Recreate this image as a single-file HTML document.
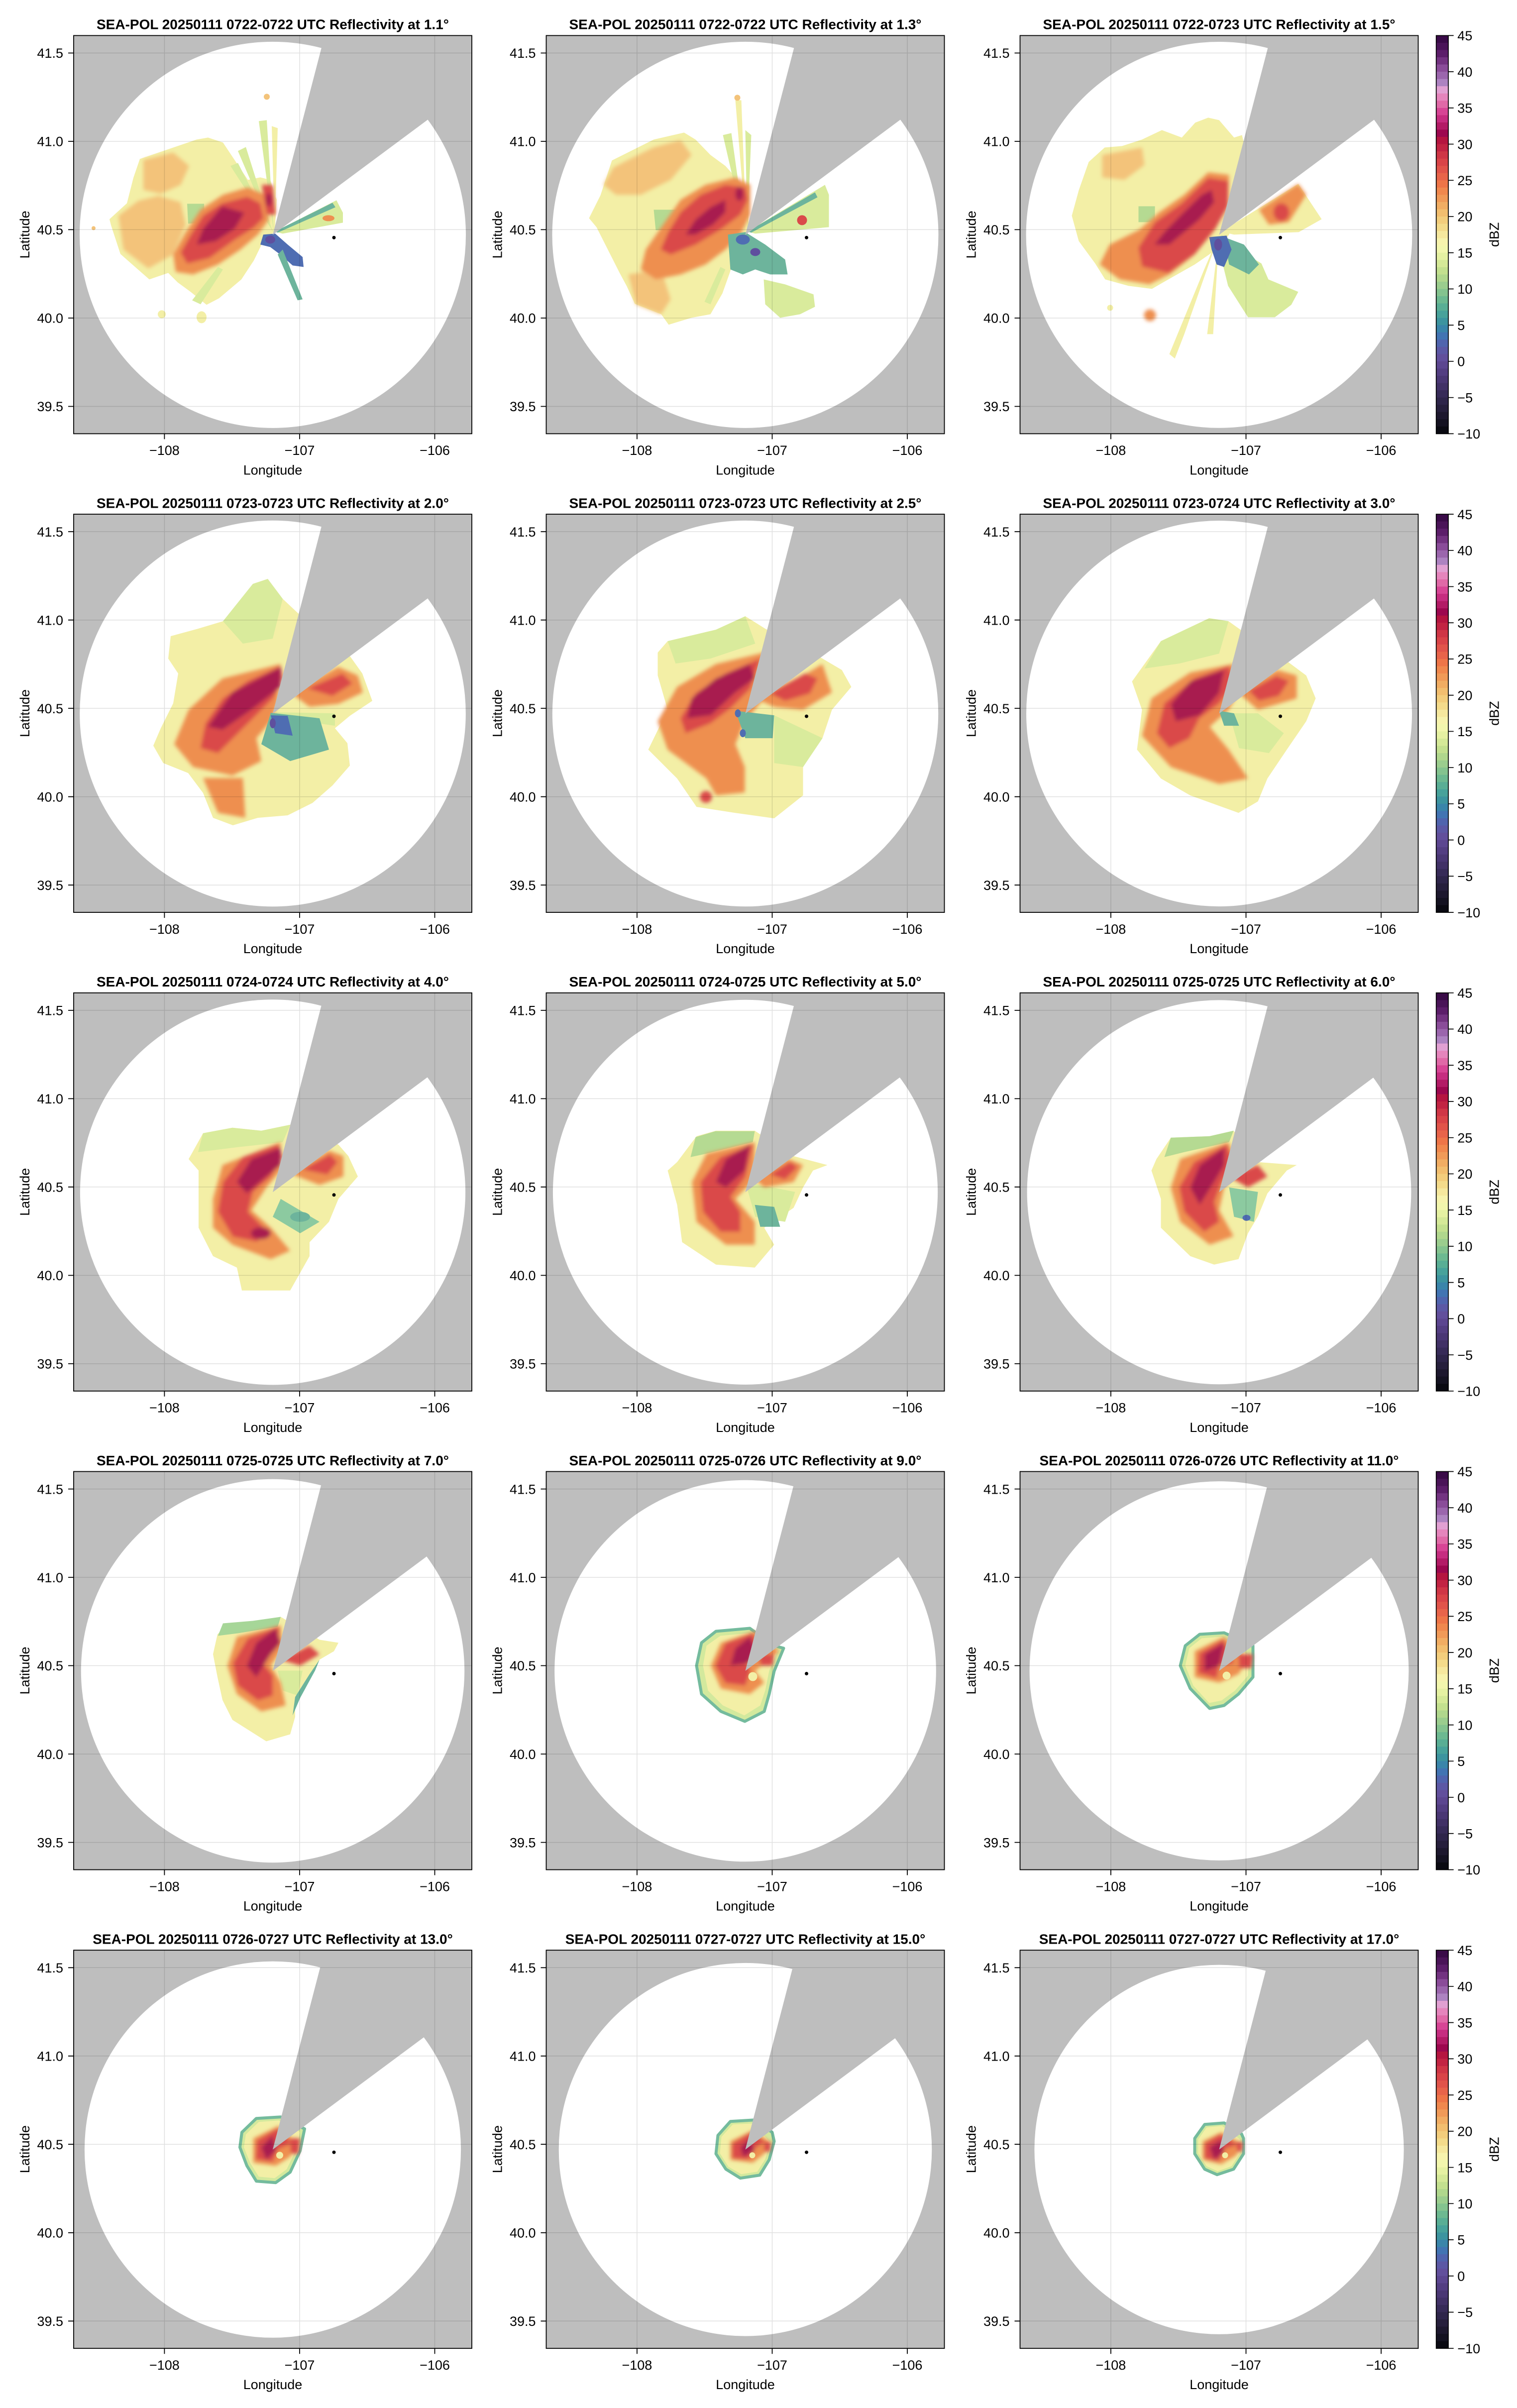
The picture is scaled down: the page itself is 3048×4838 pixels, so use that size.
<!DOCTYPE html>
<html><head><meta charset="utf-8">
<style>
html,body{margin:0;padding:0;background:#fff;}
body{width:3048px;height:4838px;overflow:hidden;}
svg{display:block;}
.t{font-family:"Liberation Sans",Arial,sans-serif;font-size:27px;fill:#000;}
.ttl{font-family:"Liberation Sans",Arial,sans-serif;font-size:28px;font-weight:bold;fill:#000;}
.y{fill:#f3efa6}.yg{fill:#d9eb9c}.g{fill:#b5da92}.o1{fill:#f3c37a}.o2{fill:#ee8f50}.r{fill:#da4a4a}.c{fill:#a81a50}
.tl{fill:#6db49c}.lt{fill:#8ccaa0}.b{fill:#4f6db2}.p{fill:#5f4f9e}.gr{fill:#8cc99b}
.ring{fill:#d3e99d;stroke:#74bb9d;stroke-width:6;stroke-linejoin:round}
</style></head>
<body>
<svg xmlns="http://www.w3.org/2000/svg" xmlns:xlink="http://www.w3.org/1999/xlink" width="3048" height="4838" viewBox="0 0 3048 4838">
<defs>
<clipPath id="ax"><rect width="800" height="800"/></clipPath>
<filter id="bl" x="-20%" y="-20%" width="140%" height="140%"><feGaussianBlur stdDeviation="4"/></filter>
<polygon id="wedge" points="400,400.5 601.7,-373.7 1042,-76.5" fill="#bebebe"/>
<path id="grid" d="M182.4,0V800M454,0V800M725.5,0V800M0,35.1H800M0,212.6H800M0,390H800M0,567.6H800M0,745.1H800" stroke="#000" stroke-opacity="0.12" stroke-width="1.5" fill="none"/>
<g id="frame" stroke="#000" stroke-width="1.8" fill="none">
<rect x="0" y="0" width="800" height="800"/>
<path d="M-11,35.1H0M-11,212.6H0M-11,390H0M-11,567.6H0M-11,745.1H0M182.4,800V811M454,800V811M725.5,800V811"/>
</g>
<g id="cbar">
<g transform="translate(836.2,0)">
<rect y="0" width="24.3" height="15" fill="#3a0b48"/>
<rect y="14.55" width="24.3" height="15" fill="#4a1458"/>
<rect y="29.09" width="24.3" height="15" fill="#5c1e6a"/>
<rect y="43.64" width="24.3" height="15" fill="#733381"/>
<rect y="58.18" width="24.3" height="15" fill="#8a4c99"/>
<rect y="72.73" width="24.3" height="15" fill="#9b66ad"/>
<rect y="87.27" width="24.3" height="15" fill="#ad83c1"/>
<rect y="101.82" width="24.3" height="15" fill="#e1a0d2"/>
<rect y="116.36" width="24.3" height="15" fill="#e585bc"/>
<rect y="130.91" width="24.3" height="15" fill="#e069a7"/>
<rect y="145.45" width="24.3" height="15" fill="#d74595"/>
<rect y="160" width="24.3" height="15" fill="#c62d80"/>
<rect y="174.55" width="24.3" height="15" fill="#b31b66"/>
<rect y="189.09" width="24.3" height="15" fill="#9d084f"/>
<rect y="203.64" width="24.3" height="15" fill="#b51540"/>
<rect y="218.18" width="24.3" height="15" fill="#c22443"/>
<rect y="232.73" width="24.3" height="15" fill="#cf3646"/>
<rect y="247.27" width="24.3" height="15" fill="#d94448"/>
<rect y="261.82" width="24.3" height="15" fill="#e1544a"/>
<rect y="276.36" width="24.3" height="15" fill="#e8644a"/>
<rect y="290.91" width="24.3" height="15" fill="#ee7548"/>
<rect y="305.45" width="24.3" height="15" fill="#f0884e"/>
<rect y="320" width="24.3" height="15" fill="#f09a58"/>
<rect y="334.55" width="24.3" height="15" fill="#f1ad63"/>
<rect y="349.09" width="24.3" height="15" fill="#f2be6f"/>
<rect y="363.64" width="24.3" height="15" fill="#f3cd7c"/>
<rect y="378.18" width="24.3" height="15" fill="#f4db8b"/>
<rect y="392.73" width="24.3" height="15" fill="#f6e89e"/>
<rect y="407.27" width="24.3" height="15" fill="#f7f3ad"/>
<rect y="421.82" width="24.3" height="15" fill="#f2f6ad"/>
<rect y="436.36" width="24.3" height="15" fill="#e5f1a2"/>
<rect y="450.91" width="24.3" height="15" fill="#d5e998"/>
<rect y="465.45" width="24.3" height="15" fill="#c3e08f"/>
<rect y="480" width="24.3" height="15" fill="#b0d78d"/>
<rect y="494.55" width="24.3" height="15" fill="#9bcd8e"/>
<rect y="509.09" width="24.3" height="15" fill="#84c38f"/>
<rect y="523.64" width="24.3" height="15" fill="#6db991"/>
<rect y="538.18" width="24.3" height="15" fill="#59ae95"/>
<rect y="552.73" width="24.3" height="15" fill="#48a29b"/>
<rect y="567.27" width="24.3" height="15" fill="#3d949f"/>
<rect y="581.82" width="24.3" height="15" fill="#3a85aa"/>
<rect y="596.36" width="24.3" height="15" fill="#4274b3"/>
<rect y="610.91" width="24.3" height="15" fill="#5064ae"/>
<rect y="625.45" width="24.3" height="15" fill="#5c58a5"/>
<rect y="640" width="24.3" height="15" fill="#624f9c"/>
<rect y="654.55" width="24.3" height="15" fill="#5c4690"/>
<rect y="669.09" width="24.3" height="15" fill="#533e82"/>
<rect y="683.64" width="24.3" height="15" fill="#4a3774"/>
<rect y="698.18" width="24.3" height="15" fill="#413166"/>
<rect y="712.73" width="24.3" height="15" fill="#372b58"/>
<rect y="727.27" width="24.3" height="15" fill="#2e254a"/>
<rect y="741.82" width="24.3" height="15" fill="#261f3c"/>
<rect y="756.36" width="24.3" height="15" fill="#1d182e"/>
<rect y="770.91" width="24.3" height="15" fill="#141221"/>
<rect y="785.45" width="24.3" height="14.55" fill="#0a0a12"/>
</g>
<rect x="836.2" y="0" width="24.3" height="800" fill="none" stroke="#000" stroke-width="1.7"/>
<path d="M860.5,0h10.7M860.5,72.73h10.7M860.5,145.45h10.7M860.5,218.18h10.7M860.5,290.91h10.7M860.5,363.64h10.7M860.5,436.36h10.7M860.5,509.09h10.7M860.5,581.82h10.7M860.5,654.55h10.7M860.5,727.27h10.7M860.5,800h10.7" stroke="#000" stroke-width="1.7"/>
</g>
</defs>

<rect width="3048" height="4838" fill="#fff"/>

<!-- ===================== ROW 1 ===================== -->
<!-- P1 1.1 -->
<g transform="translate(148,71.4)">
<rect width="800" height="800" fill="#bebebe"/>
<g clip-path="url(#ax)">
<circle cx="400" cy="400.5" r="388" fill="#fff"/>
<polygon class="y" points="72,369 75,381 94,439 152,490 190,477 209,496 235,515 267,541 292,528 337,490 362,452 381,413 404,394 408,330 395,290 375,285 350,290 330,260 300,215 270,205 247,209 209,222 171,235 133,248 120,286 107,337"/>
<polygon class="yg" points="400,395 330,232 346,224"/>
<polygon class="yg" points="402,395 372,172 388,170"/>
<polygon class="y" points="404,395 398,182 410,186"/>
<polygon class="yg" points="402,396 315,262 330,256"/>
<polygon class="g" points="228,338 262,338 264,376 230,378"/>
<g filter="url(#bl)">
<polygon class="o1" points="140,250 200,235 232,262 215,300 175,318 140,310"/>
<polygon class="o1" points="90,362 130,332 170,322 215,335 225,380 200,440 150,468 100,430"/>
<polygon class="o2" points="385,320 350,305 300,320 255,350 225,395 200,440 205,475 240,480 290,460 335,430 370,400 392,370"/>
<polygon class="r" points="375,337 349,324 298,337 260,362 235,401 215,436 228,458 273,447 324,410 362,386 381,367"/>
<polygon class="c" points="343,356 298,343 260,388 247,420 286,413 324,388"/>
<polygon class="r" points="378,300 400,300 406,360 388,360"/>
<ellipse class="c" cx="392" cy="330" rx="6" ry="14"/>
</g>
<polygon class="yg" points="404,394 528,331 541,356 541,376 420,398"/>
<polygon class="tl" points="404,394 520,336 526,345 410,396"/>
<ellipse class="o2" cx="512" cy="367" rx="12" ry="6"/>
<polygon class="b" points="381,400 405,398 430,420 460,445 462,465 440,462 415,440 395,425 375,420"/>
<ellipse class="p" cx="395" cy="410" rx="10" ry="8"/>
<polygon class="tl" points="420,430 460,530 450,532 410,440"/>
<polygon class="yg" points="300,470 255,540 238,532 290,465"/>
<circle class="y" cx="177" cy="560" r="8"/>
<ellipse class="y" cx="257" cy="566" rx="10" ry="12"/>
<circle class="o1" cx="388" cy="123" r="6"/>
<circle class="o1" cx="40" cy="387" r="4"/>
<use href="#wedge" xlink:href="#wedge"/>
<use href="#grid" xlink:href="#grid"/>
</g>
<circle cx="523" cy="406" r="3.5"/>
<use href="#frame" xlink:href="#frame"/>
<text class="ttl" x="400" y="-12.7" text-anchor="middle">SEA-POL 20250111 0722-0722 UTC Reflectivity at 1.1°</text>
<g class="t" text-anchor="end"><text x="-21" y="44.8">41.5</text><text x="-21" y="222.3">41.0</text><text x="-21" y="399.7">40.5</text><text x="-21" y="577.3">40.0</text><text x="-21" y="754.8">39.5</text></g>
<g class="t" text-anchor="middle"><text x="182.4" y="842.8">−108</text><text x="454" y="842.8">−107</text><text x="725.5" y="842.8">−106</text><text x="400" y="882">Longitude</text></g>
<text class="t" text-anchor="middle" transform="translate(-89,400) rotate(-90)">Latitude</text>
</g>

<!-- P2 1.3 -->
<g transform="translate(1097.5,71.4)">
<rect width="800" height="800" fill="#bebebe"/>
<g clip-path="url(#ax)">
<circle cx="400" cy="400.5" r="388" fill="#fff"/>
<polygon class="y" points="132,251 216,209 277,195 300,209 330,240 360,262 385,290 405,330 407,392 380,440 369,476 354,518 330,560 292,567 246,581 231,560 178,539 162,504 147,476 101,385 86,367 109,321"/>
<polygon class="yg" points="400,395 355,200 372,196"/>
<polygon class="y" points="402,395 380,130 392,130"/>
<polygon class="yg" points="404,395 400,190 412,200"/>
<polygon class="g" points="216,350 262,350 262,391 220,391"/>
<g filter="url(#bl)">
<polygon class="o1" points="135,265 215,225 270,210 292,240 250,290 190,320 140,320 115,300"/>
<polygon class="o1" points="165,480 231,470 250,530 231,560 180,540"/>
<polygon class="o2" points="410,300 380,285 320,300 270,330 235,380 200,430 190,470 220,490 270,480 320,460 360,430 390,400 410,360"/>
<polygon class="r" points="400,305 360,300 310,320 270,355 245,395 230,430 250,440 300,420 350,390 390,360 405,330"/>
<polygon class="c" points="360,330 330,345 300,370 280,400 300,400 335,380 360,355"/>
<ellipse class="c" cx="388" cy="318" rx="8" ry="14"/>
</g>
<polygon class="tl" points="365,400 400,395 440,420 480,450 485,480 450,480 420,470 395,480 370,470"/>
<ellipse class="b" cx="395" cy="410" rx="14" ry="10"/>
<ellipse class="p" cx="420" cy="435" rx="10" ry="8"/>
<polygon class="yg" points="437,490 480,500 537,520 540,545 510,560 470,567 440,540"/>
<polygon class="yg" points="404,394 560,300 568,320 568,385 420,398"/>
<polygon class="tl" points="404,394 540,315 545,325 412,396"/>
<circle class="r" cx="514" cy="371" r="10"/>
<polygon class="yg" points="360,470 330,540 318,535 350,465"/>
<circle class="o1" cx="384" cy="125" r="6"/>
<use href="#wedge" xlink:href="#wedge"/>
<use href="#grid" xlink:href="#grid"/>
</g>
<circle cx="523" cy="406" r="3.5"/>
<use href="#frame" xlink:href="#frame"/>
<text class="ttl" x="400" y="-12.7" text-anchor="middle">SEA-POL 20250111 0722-0722 UTC Reflectivity at 1.3°</text>
<g class="t" text-anchor="end"><text x="-21" y="44.8">41.5</text><text x="-21" y="222.3">41.0</text><text x="-21" y="399.7">40.5</text><text x="-21" y="577.3">40.0</text><text x="-21" y="754.8">39.5</text></g>
<g class="t" text-anchor="middle"><text x="182.4" y="842.8">−108</text><text x="454" y="842.8">−107</text><text x="725.5" y="842.8">−106</text><text x="400" y="882">Longitude</text></g>
<text class="t" text-anchor="middle" transform="translate(-89,400) rotate(-90)">Latitude</text>
</g>

<!-- P3 1.5 -->
<g transform="translate(2049.5,71.4)">
<rect width="800" height="800" fill="#bebebe"/>
<g clip-path="url(#ax)">
<circle cx="400" cy="400.5" r="387.9" fill="#fff"/>
<polygon class="y" points="138,254 170,225 205,222 245,209 285,190 325,205 352,175 378,165 400,170 430,205 446,200 460,260 420,400 405,420 380,440 351,460 298,490 265,509 218,503 171,490 151,458 118,413 104,362 118,311"/>
<polygon class="y" points="400,400 330,600 311,649 300,640 370,470"/>
<polygon class="y" points="400,400 388,600 376,600"/>
<circle class="y" cx="181" cy="547" r="6"/>
<polygon class="yg" points="405,400 432,426 485,458 499,490 559,515 545,541 512,566 458,566 418,503 400,430"/>
<polygon class="tl" points="410,405 450,420 480,460 460,480 420,460"/>
<polygon class="b" points="380,405 415,402 425,430 410,465 395,460 385,430"/>
<ellipse class="p" cx="398" cy="420" rx="8" ry="12"/>
<polygon class="y" points="404,394 559,298 590,345 606,369 560,395 430,400"/>
<polygon class="g" points="238,343 271,343 271,375 238,375"/>
<g filter="url(#bl)">
<polygon class="o2" points="480,350 559,298 575,320 540,375 500,380"/>
<ellipse class="r" cx="525" cy="355" rx="16" ry="18"/>
<circle class="o2" cx="261" cy="562" r="12"/>
<polygon class="o1" points="165,240 245,225 250,260 210,290 165,285"/>
<polygon class="o2" points="420,280 378,275 330,320 280,355 240,390 180,420 160,460 200,490 260,500 300,480 351,440 392,390 418,340"/>
<polygon class="r" points="418,292 378,286 325,337 271,375 238,426 245,464 298,477 351,439 392,388 418,343"/>
<polygon class="c" points="385,310 365,320 324,360 290,395 270,420 300,420 330,395 360,370 390,335"/>
</g>
<use href="#wedge" xlink:href="#wedge"/>
<use href="#grid" xlink:href="#grid"/>
</g>
<circle cx="523" cy="406" r="3.5"/>
<use href="#frame" xlink:href="#frame"/>
<use href="#cbar" xlink:href="#cbar"/>
<text class="ttl" x="400" y="-12.7" text-anchor="middle">SEA-POL 20250111 0722-0723 UTC Reflectivity at 1.5°</text>
<g class="t" text-anchor="end"><text x="-21" y="44.8">41.5</text><text x="-21" y="222.3">41.0</text><text x="-21" y="399.7">40.5</text><text x="-21" y="577.3">40.0</text><text x="-21" y="754.8">39.5</text></g>
<g class="t" text-anchor="middle"><text x="182.4" y="842.8">−108</text><text x="454" y="842.8">−107</text><text x="725.5" y="842.8">−106</text><text x="400" y="882">Longitude</text></g>
<text class="t" text-anchor="middle" transform="translate(-89,400) rotate(-90)">Latitude</text>
<g class="t"><text x="878.8" y="9.7">45</text><text x="878.8" y="82.4">40</text><text x="878.8" y="155.2">35</text><text x="878.8" y="227.9">30</text><text x="878.8" y="300.6">25</text><text x="878.8" y="373.3">20</text><text x="878.8" y="446.1">15</text><text x="878.8" y="518.8">10</text><text x="878.8" y="591.5">5</text><text x="878.8" y="664.3">0</text><text x="878.8" y="737">−5</text><text x="878.8" y="809.7">−10</text></g>
<text class="t" text-anchor="middle" transform="translate(961.9,400) rotate(-90)">dBZ</text>
</g>

<!-- ===================== ROW 2 ===================== -->
<!-- P4 2.0 -->
<g transform="translate(148,1033.1)">
<rect width="800" height="800" fill="#bebebe"/>
<g clip-path="url(#ax)">
<circle cx="400" cy="400.5" r="387.8" fill="#fff"/>
<polygon class="y" points="452,200 420,170 390,130 360,140 340,190 300,215 250,230 195,245 190,290 210,320 200,380 175,430 160,465 180,500 230,520 260,560 280,610 320,625 370,610 430,605 480,580 520,545 555,505 550,460 525,430 555,405 600,375 580,320 555,285"/>
<polygon class="yg" points="300,215 360,140 390,130 420,170 400,250 340,260"/>
<polygon class="yg" points="404,398 525,400 525,425 420,410"/>
<g filter="url(#bl)">
<polygon class="o2" points="416,301 299,330 231,393 202,462 240,508 319,525 377,496 367,450 396,416 410,380"/>
<polygon class="r" points="416,305 350,335 300,370 265,420 255,470 290,480 330,440 370,400 400,370 420,330"/>
<polygon class="c" points="416,307 319,358 270,427 299,433 357,393 416,347"/>
<polygon class="o2" points="260,530 340,530 345,610 290,600"/>
<polygon class="o2" points="435,358 532,307 571,324 581,358 532,381 474,387"/>
<polygon class="r" points="470,350 540,320 560,340 520,365"/>
</g>
<polygon class="tl" points="396,399 494,410 513,473 435,496 377,462"/>
<polygon class="b" points="396,404 430,405 440,445 405,440"/>
<ellipse class="p" cx="400" cy="420" rx="6" ry="10"/>
<use href="#wedge" xlink:href="#wedge"/>
<use href="#grid" xlink:href="#grid"/>
</g>
<circle cx="523" cy="406" r="3.5"/>
<use href="#frame" xlink:href="#frame"/>
<text class="ttl" x="400" y="-12.7" text-anchor="middle">SEA-POL 20250111 0723-0723 UTC Reflectivity at 2.0°</text>
<g class="t" text-anchor="end"><text x="-21" y="44.8">41.5</text><text x="-21" y="222.3">41.0</text><text x="-21" y="399.7">40.5</text><text x="-21" y="577.3">40.0</text><text x="-21" y="754.8">39.5</text></g>
<g class="t" text-anchor="middle"><text x="182.4" y="842.8">−108</text><text x="454" y="842.8">−107</text><text x="725.5" y="842.8">−106</text><text x="400" y="882">Longitude</text></g>
<text class="t" text-anchor="middle" transform="translate(-89,400) rotate(-90)">Latitude</text>
</g>

<!-- P5 2.5 -->
<g transform="translate(1097.5,1033.1)">
<rect width="800" height="800" fill="#bebebe"/>
<g clip-path="url(#ax)">
<circle cx="400" cy="400.5" r="387.7" fill="#fff"/>
<polygon class="y" points="440,230 400,205 341,232 244,255 224,278 224,324 244,393 205,473 263,531 302,588 379,600 458,611 516,565 516,508 555,450 574,393 613,347 594,313 555,290"/>
<polygon class="yg" points="244,255 341,232 400,205 420,260 330,290 260,300"/>
<polygon class="yg" points="458,404 555,450 516,508 458,500"/>
<g filter="url(#bl)">
<polygon class="o2" points="438,278 341,301 263,347 224,416 244,473 322,531 341,565 399,559 399,508 380,462 399,416 438,370"/>
<polygon class="r" points="430,290 360,320 300,360 270,410 280,440 330,420 370,390 410,350"/>
<polygon class="c" points="409,301 341,330 292,370 283,410 331,404 380,358 419,330"/>
<circle class="r" cx="321" cy="568" r="12"/>
<polygon class="o2" points="419,370 516,324 555,301 574,358 516,393 458,387"/>
<polygon class="r" points="450,360 520,320 545,330 530,360 480,375"/>
</g>
<polygon class="tl" points="380,395 458,404 455,450 400,450"/>
<ellipse class="b" cx="385" cy="400" rx="6" ry="8"/>
<ellipse class="b" cx="395" cy="440" rx="6" ry="8"/>
<use href="#wedge" xlink:href="#wedge"/>
<use href="#grid" xlink:href="#grid"/>
</g>
<circle cx="523" cy="406" r="3.5"/>
<use href="#frame" xlink:href="#frame"/>
<text class="ttl" x="400" y="-12.7" text-anchor="middle">SEA-POL 20250111 0723-0723 UTC Reflectivity at 2.5°</text>
<g class="t" text-anchor="end"><text x="-21" y="44.8">41.5</text><text x="-21" y="222.3">41.0</text><text x="-21" y="399.7">40.5</text><text x="-21" y="577.3">40.0</text><text x="-21" y="754.8">39.5</text></g>
<g class="t" text-anchor="middle"><text x="182.4" y="842.8">−108</text><text x="454" y="842.8">−107</text><text x="725.5" y="842.8">−106</text><text x="400" y="882">Longitude</text></g>
<text class="t" text-anchor="middle" transform="translate(-89,400) rotate(-90)">Latitude</text>
</g>

<!-- P6 3.0 -->
<g transform="translate(2049.5,1033.1)">
<rect width="800" height="800" fill="#bebebe"/>
<g clip-path="url(#ax)">
<circle cx="400" cy="400.5" r="387.5" fill="#fff"/>
<polygon class="y" points="440,230 419,215 380,209 283,255 225,336 245,393 235,473 283,531 342,565 439,600 478,577 497,531 536,473 575,416 594,370 575,324 536,295"/>
<polygon class="yg" points="283,255 380,209 419,215 400,280 320,300 250,310"/>
<polygon class="yg" points="420,400 478,400 530,440 500,480 440,470"/>
<g filter="url(#bl)">
<polygon class="o2" points="429,301 342,318 264,370 245,445 303,508 400,542 458,531 419,473 381,427 419,393 439,359"/>
<polygon class="r" points="420,305 350,330 290,380 275,440 300,470 340,450 360,410 400,380 430,340"/>
<polygon class="c" points="410,313 342,336 303,382 313,416 361,404 400,359"/>
<polygon class="o2" points="439,359 517,313 556,324 556,370 478,393"/>
<polygon class="r" points="460,355 515,325 540,335 520,365 480,375"/>
</g>
<polygon class="tl" points="400,395 430,400 440,425 410,425"/>
<use href="#wedge" xlink:href="#wedge"/>
<use href="#grid" xlink:href="#grid"/>
</g>
<circle cx="523" cy="406" r="3.5"/>
<use href="#frame" xlink:href="#frame"/>
<use href="#cbar" xlink:href="#cbar"/>
<text class="ttl" x="400" y="-12.7" text-anchor="middle">SEA-POL 20250111 0723-0724 UTC Reflectivity at 3.0°</text>
<g class="t" text-anchor="end"><text x="-21" y="44.8">41.5</text><text x="-21" y="222.3">41.0</text><text x="-21" y="399.7">40.5</text><text x="-21" y="577.3">40.0</text><text x="-21" y="754.8">39.5</text></g>
<g class="t" text-anchor="middle"><text x="182.4" y="842.8">−108</text><text x="454" y="842.8">−107</text><text x="725.5" y="842.8">−106</text><text x="400" y="882">Longitude</text></g>
<text class="t" text-anchor="middle" transform="translate(-89,400) rotate(-90)">Latitude</text>
<g class="t"><text x="878.8" y="9.7">45</text><text x="878.8" y="82.4">40</text><text x="878.8" y="155.2">35</text><text x="878.8" y="227.9">30</text><text x="878.8" y="300.6">25</text><text x="878.8" y="373.3">20</text><text x="878.8" y="446.1">15</text><text x="878.8" y="518.8">10</text><text x="878.8" y="591.5">5</text><text x="878.8" y="664.3">0</text><text x="878.8" y="737">−5</text><text x="878.8" y="809.7">−10</text></g>
<text class="t" text-anchor="middle" transform="translate(961.9,400) rotate(-90)">dBZ</text>
</g>

<!-- ===================== ROW 3 ===================== -->
<!-- P7 4.0 -->
<g transform="translate(148,1994.8)">
<rect width="800" height="800" fill="#bebebe"/>
<g clip-path="url(#ax)">
<circle cx="400" cy="400.5" r="387.1" fill="#fff"/>
<polygon class="y" points="435,265 377,277 319,271 260,282 231,334 251,357 251,472 280,529 328,552 338,598 435,598 474,529 474,501 513,460 532,414 571,369 552,328 532,305"/>
<polygon class="yg" points="260,282 319,271 377,277 435,265 420,300 330,310 250,320"/>
<g filter="url(#bl)">
<polygon class="o2" points="416,300 299,346 280,414 280,472 319,506 396,535 435,518 396,472 357,437 387,391 416,357"/>
<polygon class="r" points="410,305 340,330 300,380 290,440 320,490 370,500 380,470 350,440 360,400 395,370 420,330"/>
<polygon class="c" points="416,311 357,334 328,380 348,403 387,369 416,346"/>
<ellipse class="c" cx="376" cy="483" rx="20" ry="12"/>
<polygon class="o2" points="435,363 513,317 542,328 542,369 494,386"/>
<polygon class="r" points="460,355 515,325 530,340 510,365"/>
</g>
<polygon class="lt" points="416,414 494,460 455,483 400,450"/>
<ellipse class="tl" cx="455" cy="450" rx="20" ry="10"/>
<use href="#wedge" xlink:href="#wedge"/>
<use href="#grid" xlink:href="#grid"/>
</g>
<circle cx="523" cy="406" r="3.5"/>
<use href="#frame" xlink:href="#frame"/>
<text class="ttl" x="400" y="-12.7" text-anchor="middle">SEA-POL 20250111 0724-0724 UTC Reflectivity at 4.0°</text>
<g class="t" text-anchor="end"><text x="-21" y="44.8">41.5</text><text x="-21" y="222.3">41.0</text><text x="-21" y="399.7">40.5</text><text x="-21" y="577.3">40.0</text><text x="-21" y="754.8">39.5</text></g>
<g class="t" text-anchor="middle"><text x="182.4" y="842.8">−108</text><text x="454" y="842.8">−107</text><text x="725.5" y="842.8">−106</text><text x="400" y="882">Longitude</text></g>
<text class="t" text-anchor="middle" transform="translate(-89,400) rotate(-90)">Latitude</text>
</g>

<!-- P8 5.0 -->
<g transform="translate(1097.5,1994.8)">
<rect width="800" height="800" fill="#bebebe"/>
<g clip-path="url(#ax)">
<circle cx="400" cy="400.5" r="386.6" fill="#fff"/>
<polygon class="y" points="419,277 341,277 302,288 263,340 244,357 263,426 273,501 341,546 419,552 458,506 438,472 497,432 516,391 536,357 565,346 497,328"/>
<polygon class="g" points="300,290 340,278 419,278 415,300 322,323 290,330"/>
<polygon class="yg" points="400,380 500,400 480,460 420,450"/>
<g filter="url(#bl)">
<polygon class="o2" points="419,300 322,323 293,380 302,460 361,506 419,506 419,460 380,414 419,374"/>
<polygon class="r" points="415,305 350,330 310,380 315,440 350,480 390,480 390,440 370,410 400,370"/>
<polygon class="c" points="409,305 361,334 341,380 361,391 399,357"/>
<polygon class="o2" points="419,374 487,334 516,346 497,380 438,391"/>
<polygon class="r" points="450,365 490,340 505,350 480,375"/>
</g>
<polygon class="tl" points="419,426 458,430 470,470 430,470"/>
<use href="#wedge" xlink:href="#wedge"/>
<use href="#grid" xlink:href="#grid"/>
</g>
<circle cx="523" cy="406" r="3.5"/>
<use href="#frame" xlink:href="#frame"/>
<text class="ttl" x="400" y="-12.7" text-anchor="middle">SEA-POL 20250111 0724-0725 UTC Reflectivity at 5.0°</text>
<g class="t" text-anchor="end"><text x="-21" y="44.8">41.5</text><text x="-21" y="222.3">41.0</text><text x="-21" y="399.7">40.5</text><text x="-21" y="577.3">40.0</text><text x="-21" y="754.8">39.5</text></g>
<g class="t" text-anchor="middle"><text x="182.4" y="842.8">−108</text><text x="454" y="842.8">−107</text><text x="725.5" y="842.8">−106</text><text x="400" y="882">Longitude</text></g>
<text class="t" text-anchor="middle" transform="translate(-89,400) rotate(-90)">Latitude</text>
</g>

<!-- P9 6.0 -->
<g transform="translate(2049.5,1994.8)">
<rect width="800" height="800" fill="#bebebe"/>
<g clip-path="url(#ax)">
<circle cx="400" cy="400.5" r="385.9" fill="#fff"/>
<polygon class="y" points="429,277 381,288 303,291 274,334 264,357 283,414 283,472 342,529 390,546 439,535 458,483 478,449 497,403 536,357 556,346 478,340"/>
<polygon class="g" points="303,291 381,288 429,277 420,300 330,320 290,330"/>
<g filter="url(#bl)">
<polygon class="o2" points="419,300 322,334 303,391 322,460 381,506 429,489 400,437 410,391 439,357"/>
<polygon class="r" points="415,305 350,340 320,390 330,440 370,480 400,460 390,420 405,380 430,345"/>
<polygon class="c" points="410,311 361,346 342,391 361,426 390,380 410,346"/>
<polygon class="r" points="419,369 478,346 497,369 458,391"/>
</g>
<polygon class="lt" points="420,391 478,400 470,460 430,450"/>
<ellipse class="b" cx="455" cy="452" rx="8" ry="6"/>
<use href="#wedge" xlink:href="#wedge"/>
<use href="#grid" xlink:href="#grid"/>
</g>
<circle cx="523" cy="406" r="3.5"/>
<use href="#frame" xlink:href="#frame"/>
<use href="#cbar" xlink:href="#cbar"/>
<text class="ttl" x="400" y="-12.7" text-anchor="middle">SEA-POL 20250111 0725-0725 UTC Reflectivity at 6.0°</text>
<g class="t" text-anchor="end"><text x="-21" y="44.8">41.5</text><text x="-21" y="222.3">41.0</text><text x="-21" y="399.7">40.5</text><text x="-21" y="577.3">40.0</text><text x="-21" y="754.8">39.5</text></g>
<g class="t" text-anchor="middle"><text x="182.4" y="842.8">−108</text><text x="454" y="842.8">−107</text><text x="725.5" y="842.8">−106</text><text x="400" y="882">Longitude</text></g>
<text class="t" text-anchor="middle" transform="translate(-89,400) rotate(-90)">Latitude</text>
<g class="t"><text x="878.8" y="9.7">45</text><text x="878.8" y="82.4">40</text><text x="878.8" y="155.2">35</text><text x="878.8" y="227.9">30</text><text x="878.8" y="300.6">25</text><text x="878.8" y="373.3">20</text><text x="878.8" y="446.1">15</text><text x="878.8" y="518.8">10</text><text x="878.8" y="591.5">5</text><text x="878.8" y="664.3">0</text><text x="878.8" y="737">−5</text><text x="878.8" y="809.7">−10</text></g>
<text class="t" text-anchor="middle" transform="translate(961.9,400) rotate(-90)">dBZ</text>
</g>

<!-- ===================== ROW 4 ===================== -->
<!-- P10 7.0 -->
<g transform="translate(148,2956.5)">
<rect width="800" height="800" fill="#bebebe"/>
<g clip-path="url(#ax)">
<circle cx="400" cy="400.5" r="385.2" fill="#fff"/>
<polygon class="y" points="416,292 357,301 309,307 289,327 280,367 289,413 299,459 319,499 387,542 435,528 445,493 445,453 474,407 494,378 523,361 532,344 494,338"/>
<polygon fill="#a6d698" points="300,305 360,300 416,292 410,312 330,325 290,330"/>
<polygon class="yg" points="410,400 460,400 450,450 420,440"/>
<g filter="url(#bl)">
<polygon class="o2" points="416,309 328,332 309,390 328,447 377,482 426,470 416,424 396,390 420,355"/>
<polygon class="r" points="412,312 350,335 320,385 330,430 370,460 400,450 400,410 380,385 410,350"/>
<polygon class="c" points="406,315 367,344 348,390 367,413 396,367 416,344"/>
<polygon class="r" points="416,378 474,350 494,367 455,390"/>
</g>
<polygon class="tl" points="445,453 474,407 494,378 485,400 455,455 440,490"/>
<use href="#wedge" xlink:href="#wedge"/>
<use href="#grid" xlink:href="#grid"/>
</g>
<circle cx="523" cy="406" r="3.5"/>
<use href="#frame" xlink:href="#frame"/>
<text class="ttl" x="400" y="-12.7" text-anchor="middle">SEA-POL 20250111 0725-0725 UTC Reflectivity at 7.0°</text>
<g class="t" text-anchor="end"><text x="-21" y="44.8">41.5</text><text x="-21" y="222.3">41.0</text><text x="-21" y="399.7">40.5</text><text x="-21" y="577.3">40.0</text><text x="-21" y="754.8">39.5</text></g>
<g class="t" text-anchor="middle"><text x="182.4" y="842.8">−108</text><text x="454" y="842.8">−107</text><text x="725.5" y="842.8">−106</text><text x="400" y="882">Longitude</text></g>
<text class="t" text-anchor="middle" transform="translate(-89,400) rotate(-90)">Latitude</text>
</g>

<!-- P11 9.0 -->
<g transform="translate(1097.5,2956.5)">
<rect width="800" height="800" fill="#bebebe"/>
<g clip-path="url(#ax)">
<circle cx="400" cy="400.5" r="383.3" fill="#fff"/>
<polygon class="ring" points="409,315 341,321 312,344 302,390 312,447 351,482 399,502 438,482 448,447 458,401 477,355 458,350"/>
<polygon class="y" points="405,325 350,330 322,350 315,390 325,440 355,470 398,490 430,470 440,440 448,400 465,360"/>
<g filter="url(#bl)">
<polygon class="o2" points="419,321 351,344 331,390 351,436 409,447 438,424 419,401 448,378 468,361"/>
<polygon class="r" points="415,325 360,345 340,390 360,425 400,430 410,400 400,380 430,360"/>
<polygon class="c" points="409,332 380,355 370,390 409,384 419,355"/>
<polygon class="r" points="428,367 458,367 455,390 430,390"/>
</g>
<circle class="y" cx="415" cy="412" r="9"/>
<use href="#wedge" xlink:href="#wedge"/>
<use href="#grid" xlink:href="#grid"/>
</g>
<circle cx="523" cy="406" r="3.5"/>
<use href="#frame" xlink:href="#frame"/>
<text class="ttl" x="400" y="-12.7" text-anchor="middle">SEA-POL 20250111 0725-0726 UTC Reflectivity at 9.0°</text>
<g class="t" text-anchor="end"><text x="-21" y="44.8">41.5</text><text x="-21" y="222.3">41.0</text><text x="-21" y="399.7">40.5</text><text x="-21" y="577.3">40.0</text><text x="-21" y="754.8">39.5</text></g>
<g class="t" text-anchor="middle"><text x="182.4" y="842.8">−108</text><text x="454" y="842.8">−107</text><text x="725.5" y="842.8">−106</text><text x="400" y="882">Longitude</text></g>
<text class="t" text-anchor="middle" transform="translate(-89,400) rotate(-90)">Latitude</text>
</g>

<!-- P12 11.0 -->
<g transform="translate(2049.5,2956.5)">
<rect width="800" height="800" fill="#bebebe"/>
<g clip-path="url(#ax)">
<circle cx="400" cy="400.5" r="380.9" fill="#fff"/>
<polygon class="ring" points="410,324 361,327 332,350 322,390 342,436 381,476 410,470 439,447 468,413 468,367 468,350"/>
<polygon class="y" points="405,332 365,335 340,355 332,390 348,430 380,465 405,460 432,440 458,410 460,370"/>
<g filter="url(#bl)">
<polygon class="o2" points="410,332 351,361 351,413 400,424 439,407 458,378"/>
<polygon class="r" points="408,338 360,365 358,405 395,415 400,390 430,385"/>
<polygon class="c" points="410,344 371,367 371,401 400,390"/>
<polygon class="r" points="439,367 468,367 465,395 440,395"/>
</g>
<circle class="y" cx="415" cy="410" r="8"/>
<use href="#wedge" xlink:href="#wedge"/>
<use href="#grid" xlink:href="#grid"/>
</g>
<circle cx="523" cy="406" r="3.5"/>
<use href="#frame" xlink:href="#frame"/>
<use href="#cbar" xlink:href="#cbar"/>
<text class="ttl" x="400" y="-12.7" text-anchor="middle">SEA-POL 20250111 0726-0726 UTC Reflectivity at 11.0°</text>
<g class="t" text-anchor="end"><text x="-21" y="44.8">41.5</text><text x="-21" y="222.3">41.0</text><text x="-21" y="399.7">40.5</text><text x="-21" y="577.3">40.0</text><text x="-21" y="754.8">39.5</text></g>
<g class="t" text-anchor="middle"><text x="182.4" y="842.8">−108</text><text x="454" y="842.8">−107</text><text x="725.5" y="842.8">−106</text><text x="400" y="882">Longitude</text></g>
<text class="t" text-anchor="middle" transform="translate(-89,400) rotate(-90)">Latitude</text>
<g class="t"><text x="878.8" y="9.7">45</text><text x="878.8" y="82.4">40</text><text x="878.8" y="155.2">35</text><text x="878.8" y="227.9">30</text><text x="878.8" y="300.6">25</text><text x="878.8" y="373.3">20</text><text x="878.8" y="446.1">15</text><text x="878.8" y="518.8">10</text><text x="878.8" y="591.5">5</text><text x="878.8" y="664.3">0</text><text x="878.8" y="737">−5</text><text x="878.8" y="809.7">−10</text></g>
<text class="t" text-anchor="middle" transform="translate(961.9,400) rotate(-90)">dBZ</text>
</g>

<!-- ===================== ROW 5 ===================== -->
<!-- P13 13.0 -->
<g transform="translate(148,3918.2)">
<rect width="800" height="800" fill="#bebebe"/>
<g clip-path="url(#ax)">
<circle cx="400" cy="400.5" r="378.1" fill="#fff"/>
<polygon class="ring" points="416,335 367,338 338,366 334,396 348,433 367,464 406,467 435,446 455,403 464,359"/>
<polygon class="y" points="412,342 372,345 346,370 342,396 355,428 372,455 404,458 428,440 446,403 455,365"/>
<g filter="url(#bl)">
<polygon class="o2" points="412,353 361,378 361,427 406,433 435,415 445,384"/>
<polygon class="r" points="410,358 368,382 366,420 400,425 410,400 438,388"/>
<polygon class="c" points="400,372 377,396 387,421 406,403"/>
<polygon class="r" points="435,378 455,378 452,409 436,409"/>
</g>
<circle class="y" cx="414" cy="412" r="7"/>
<use href="#wedge" xlink:href="#wedge"/>
<use href="#grid" xlink:href="#grid"/>
</g>
<circle cx="523" cy="406" r="3.5"/>
<use href="#frame" xlink:href="#frame"/>
<text class="ttl" x="400" y="-12.7" text-anchor="middle">SEA-POL 20250111 0726-0727 UTC Reflectivity at 13.0°</text>
<g class="t" text-anchor="end"><text x="-21" y="44.8">41.5</text><text x="-21" y="222.3">41.0</text><text x="-21" y="399.7">40.5</text><text x="-21" y="577.3">40.0</text><text x="-21" y="754.8">39.5</text></g>
<g class="t" text-anchor="middle"><text x="182.4" y="842.8">−108</text><text x="454" y="842.8">−107</text><text x="725.5" y="842.8">−106</text><text x="400" y="882">Longitude</text></g>
<text class="t" text-anchor="middle" transform="translate(-89,400) rotate(-90)">Latitude</text>
</g>

<!-- P14 15.0 -->
<g transform="translate(1097.5,3918.2)">
<rect width="800" height="800" fill="#bebebe"/>
<g clip-path="url(#ax)">
<circle cx="400" cy="400.5" r="374.8" fill="#fff"/>
<polygon class="ring" points="419,341 370,344 345,372 341,409 361,440 390,458 429,452 448,421 458,384 454,366"/>
<polygon class="y" points="415,348 375,350 352,375 349,408 366,435 392,450 424,445 440,420 450,386"/>
<g filter="url(#bl)">
<polygon class="o2" points="415,362 370,384 370,421 415,427 438,409 448,384"/>
<polygon class="r" points="412,366 374,388 374,418 408,420 415,400 440,385"/>
<polygon class="c" points="409,378 390,396 396,415 419,403"/>
<polygon class="r" points="438,385 452,385 450,405 438,405"/>
</g>
<circle class="y" cx="414" cy="412" r="6"/>
<use href="#wedge" xlink:href="#wedge"/>
<use href="#grid" xlink:href="#grid"/>
</g>
<circle cx="523" cy="406" r="3.5"/>
<use href="#frame" xlink:href="#frame"/>
<text class="ttl" x="400" y="-12.7" text-anchor="middle">SEA-POL 20250111 0727-0727 UTC Reflectivity at 15.0°</text>
<g class="t" text-anchor="end"><text x="-21" y="44.8">41.5</text><text x="-21" y="222.3">41.0</text><text x="-21" y="399.7">40.5</text><text x="-21" y="577.3">40.0</text><text x="-21" y="754.8">39.5</text></g>
<g class="t" text-anchor="middle"><text x="182.4" y="842.8">−108</text><text x="454" y="842.8">−107</text><text x="725.5" y="842.8">−106</text><text x="400" y="882">Longitude</text></g>
<text class="t" text-anchor="middle" transform="translate(-89,400) rotate(-90)">Latitude</text>
</g>

<!-- P15 17.0 -->
<g transform="translate(2049.5,3918.2)">
<rect width="800" height="800" fill="#bebebe"/>
<g clip-path="url(#ax)">
<circle cx="400" cy="400.5" r="371.1" fill="#fff"/>
<polygon class="ring" points="410,347 371,350 351,378 351,409 371,440 396,451 429,440 449,409 449,378 445,369"/>
<polygon class="y" points="406,353 375,356 358,380 358,408 375,434 397,444 425,434 442,408 442,380"/>
<g filter="url(#bl)">
<polygon class="o2" points="404,366 367,384 367,421 404,430 435,412 443,387"/>
<polygon class="r" points="402,370 371,388 371,418 400,424 410,400 438,390"/>
<polygon class="c" points="404,381 381,396 390,421 410,406"/>
<polygon class="r" points="435,385 448,385 446,405 436,405"/>
</g>
<circle class="y" cx="412" cy="412" r="6"/>
<use href="#wedge" xlink:href="#wedge"/>
<use href="#grid" xlink:href="#grid"/>
</g>
<circle cx="523" cy="406" r="3.5"/>
<use href="#frame" xlink:href="#frame"/>
<use href="#cbar" xlink:href="#cbar"/>
<text class="ttl" x="400" y="-12.7" text-anchor="middle">SEA-POL 20250111 0727-0727 UTC Reflectivity at 17.0°</text>
<g class="t" text-anchor="end"><text x="-21" y="44.8">41.5</text><text x="-21" y="222.3">41.0</text><text x="-21" y="399.7">40.5</text><text x="-21" y="577.3">40.0</text><text x="-21" y="754.8">39.5</text></g>
<g class="t" text-anchor="middle"><text x="182.4" y="842.8">−108</text><text x="454" y="842.8">−107</text><text x="725.5" y="842.8">−106</text><text x="400" y="882">Longitude</text></g>
<text class="t" text-anchor="middle" transform="translate(-89,400) rotate(-90)">Latitude</text>
<g class="t"><text x="878.8" y="9.7">45</text><text x="878.8" y="82.4">40</text><text x="878.8" y="155.2">35</text><text x="878.8" y="227.9">30</text><text x="878.8" y="300.6">25</text><text x="878.8" y="373.3">20</text><text x="878.8" y="446.1">15</text><text x="878.8" y="518.8">10</text><text x="878.8" y="591.5">5</text><text x="878.8" y="664.3">0</text><text x="878.8" y="737">−5</text><text x="878.8" y="809.7">−10</text></g>
<text class="t" text-anchor="middle" transform="translate(961.9,400) rotate(-90)">dBZ</text>
</g>

</svg>
</body></html>
